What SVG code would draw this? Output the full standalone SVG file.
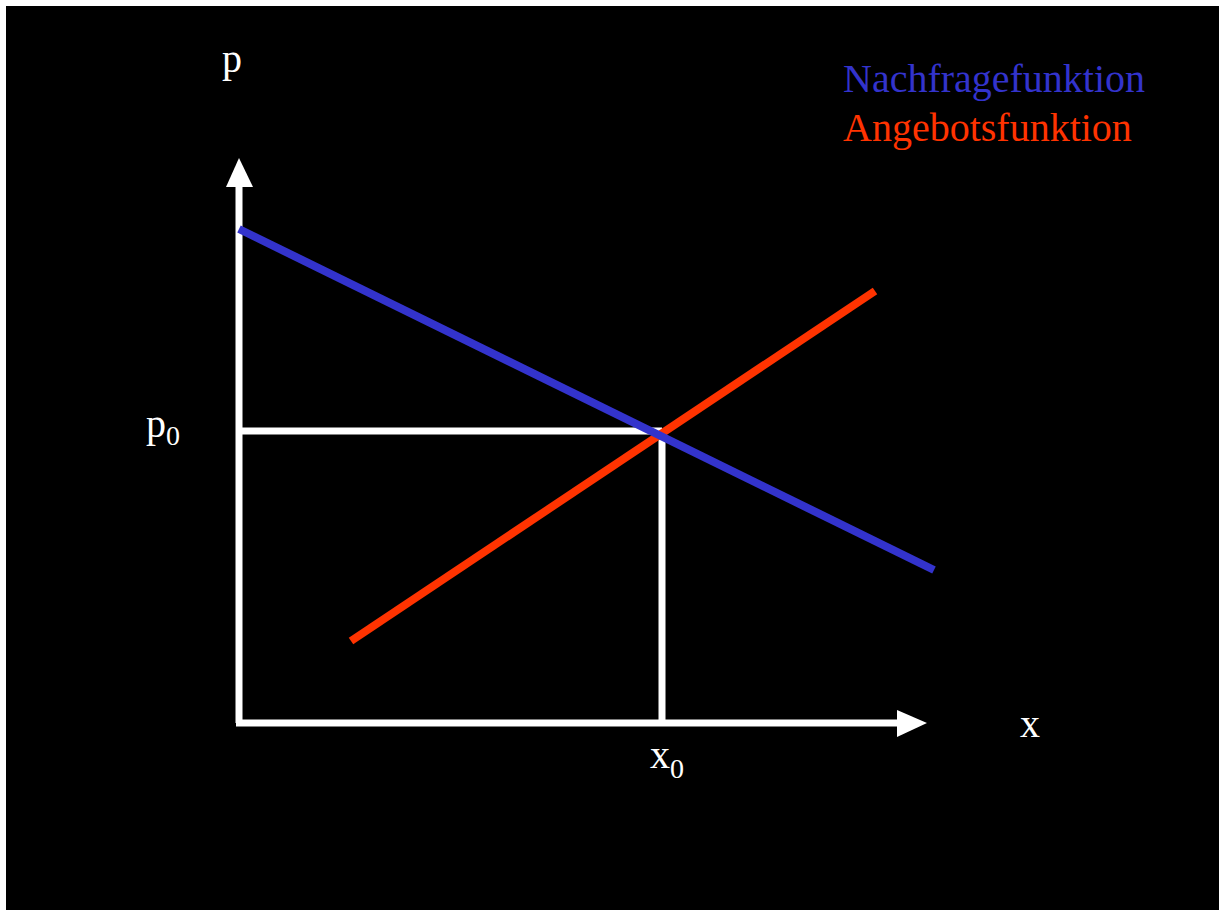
<svg xmlns="http://www.w3.org/2000/svg" width="1219" height="910" viewBox="0 0 1219 910">
<style>
.ax{stroke:#fff;stroke-width:7;fill:none}
.t{font-family:"Liberation Serif","Times New Roman",serif;font-size:40px;fill:#fff}
.sub{font-size:28px}
</style>
<rect x="0" y="0" width="1219" height="910" fill="#fff"/>
<rect x="6" y="6" width="1213" height="904" fill="#000"/>
<g id="axes">
<line class="ax" x1="239" y1="186" x2="239" y2="723"/>
<polygon points="239,158 226,187 253,187" fill="#fff"/>
<line class="ax" x1="236" y1="723" x2="898" y2="723"/>
<polygon points="927,723 897,710 897,737" fill="#fff"/>
</g>
<g id="guides">
<line class="ax" x1="239" y1="431" x2="662" y2="431"/>
<line class="ax" x1="662" y1="431" x2="662" y2="723"/>
</g>
<g id="curves">
<line x1="351" y1="641" x2="875" y2="291" stroke="#ff3300" stroke-width="8"/>
<line x1="239" y1="229" x2="934" y2="570" stroke="#3333cc" stroke-width="8"/>
</g>
<g id="labels">
<text class="t" x="222" y="72">p</text>
<text class="t" x="146" y="437">p<tspan class="sub" dy="8">0</tspan></text>
<text class="t" x="650" y="768">x<tspan class="sub" dy="10">0</tspan></text>
<text class="t" x="1020" y="737">x</text>
</g>
<g id="legend">
<text class="t" x="843" y="92" style="fill:#3333cc">Nachfragefunktion</text>
<text class="t" x="843" y="141" style="fill:#ff3300">Angebotsfunktion</text>
</g>
</svg>
